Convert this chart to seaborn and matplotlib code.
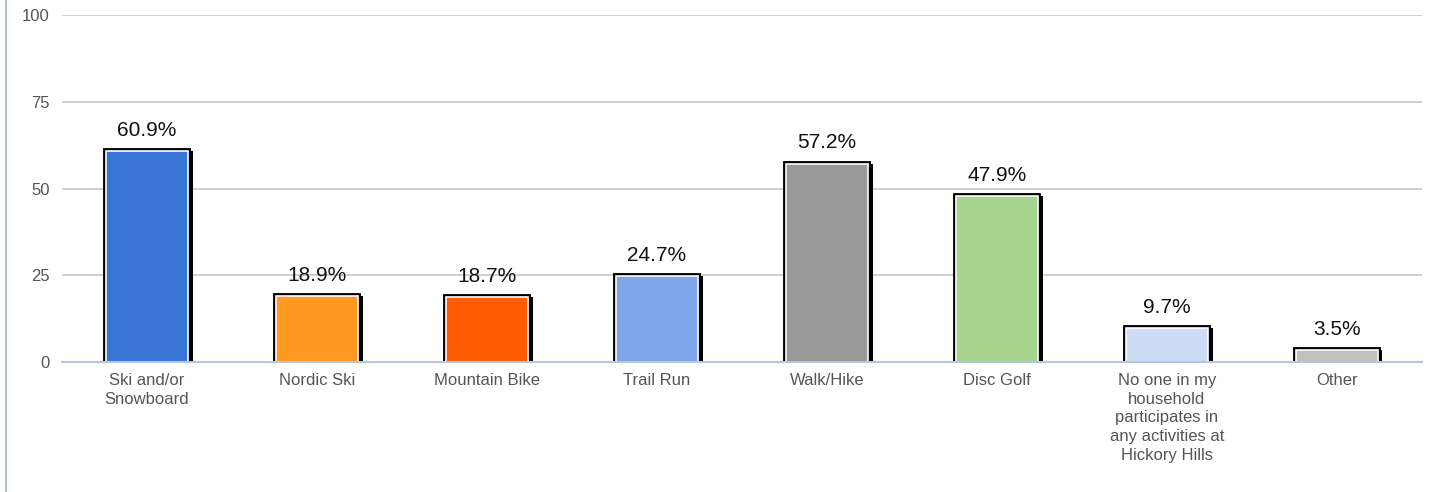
import matplotlib
matplotlib.use("Agg")
import matplotlib.pyplot as plt
import matplotlib.patheffects as pe
from matplotlib.lines import Line2D
import seaborn as sns

categories = [
    "Ski and/or\nSnowboard",
    "Nordic Ski",
    "Mountain Bike",
    "Trail Run",
    "Walk/Hike",
    "Disc Golf",
    "No one in my\nhousehold\nparticipates in\nany activities at\nHickory Hills",
    "Other",
]
percents = [60.9, 18.9, 18.7, 24.7, 57.2, 47.9, 9.7, 3.5]
bar_colors = ["#3875d7", "#ff9922", "#ff5c05", "#7fa6e8", "#999999", "#a6d38e", "#cddcf5", "#c0c0c0"]
y_ticks = [0, 25, 50, 75, 100]

sns.set_theme(style="white")
plt.rcParams["font.family"] = ["Liberation Sans", "DejaVu Sans"]

fig = plt.figure(figsize=(14.32, 4.92), dpi=100)
ax = fig.add_axes([0.0433, 0.2642, 0.9497, 0.7053])

sns.barplot(x=categories, y=percents, hue=categories, palette=bar_colors,
            saturation=1, legend=False, width=0.48, edgecolor="white",
            linewidth=1.2, ax=ax)

# black outline with a drop shadow on the right side
for patch in ax.patches:
    patch.set_path_effects([
        pe.SimplePatchShadow(offset=(3.4, 0), shadow_rgbFace="black", alpha=1.0),
        pe.Stroke(linewidth=4.2, foreground="black"),
        pe.Normal(),
    ])

for i, v in enumerate(percents):
    ax.annotate(f"{v}%", (i, v), xytext=(0, 8), textcoords="offset points",
                ha="center", va="bottom", fontsize=15, color="#111111")

ax.set_ylim(0, 100)
ax.set_xlim(-0.5, len(categories) - 0.5)
ax.set_yticks(y_ticks)
ax.yaxis.grid(True, color="#c8c8c8", linewidth=1.2)
ax.set_axisbelow(True)
ax.tick_params(axis="y", length=0, labelsize=12, labelcolor="#555555", pad=9)
ax.tick_params(axis="x", which="major", length=0, labelsize=12, labelcolor="#555555", pad=8)
ax.set_xticks([i - 0.5 for i in range(len(categories) + 1)], minor=True)
ax.tick_params(axis="x", which="minor", length=6, color="#b4c7dd", width=1.2, direction="out")
for lbl in ax.get_xticklabels():
    lbl.set_linespacing(1.3)

for side in ["top", "right", "left"]:
    ax.spines[side].set_visible(False)
ax.spines["bottom"].set_color("#b4c7dd")
ax.spines["bottom"].set_linewidth(1.5)

# thin blue frame line on the left edge
fig.add_artist(Line2D([0.004, 0.004], [0, 1], transform=fig.transFigure,
                      color="#a9bfdc", linewidth=1.5))

fig.savefig("out.png", dpi=100)
